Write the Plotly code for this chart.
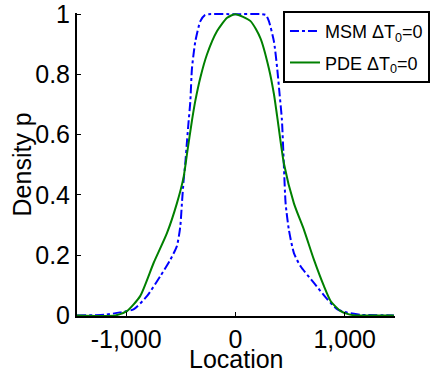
import plotly.graph_objects as go

# MSM curve (blue dash-dot)
msm_x = [-1450, -1200, -1055, -933, -810, -688, -596, -536, -505, -490, -474, -459, -443, -428,
         -413, -398, -367, -321, -280, -245, 0, 245, 280, 306, 352, 382, 405, 425, 443, 459,
         489, 535, 596, 718, 841, 933, 1024, 1150, 1450]
msm_y = [0, 0.002, 0.01, 0.02, 0.064, 0.13, 0.185, 0.23, 0.295, 0.372, 0.45, 0.505, 0.58, 0.647,
         0.71, 0.82, 0.91, 0.977, 0.997, 1, 1, 1, 0.997, 0.977, 0.91, 0.82, 0.73, 0.65, 0.50, 0.372,
         0.284, 0.207, 0.163, 0.108, 0.053, 0.02, 0.009, 0.002, 0]

# PDE curve (green solid)
pde_x = [-1450, -1100, -994, -872, -749, -627, -536, -474, -443, -398, -367, -321, -260, -168,
         -76, 0, 138, 229, 306, 352, 382, 443, 535, 627, 718, 810, 872, 963, 1024, 1100, 1450]
pde_y = [0, 0, 0.014, 0.064, 0.174, 0.273, 0.372, 0.46, 0.537, 0.647, 0.713, 0.79, 0.867, 0.944,
         0.988, 1, 0.977, 0.92, 0.82, 0.735, 0.66, 0.505, 0.372, 0.284, 0.185, 0.097, 0.047, 0.014,
         0.005, 0, 0]

x_ticks = [-1000, 0, 1000]
x_tick_labels = ["-1,000", "0", "1,000"]
y_ticks = [0, 0.2, 0.4, 0.6, 0.8, 1]
y_tick_labels = ["0", "0.2", "0.4", "0.6", "0.8", "1"]

fig = go.Figure()
fig.add_trace(go.Scatter(x=msm_x, y=msm_y, mode="lines", name="MSM \u0394T<sub>0</sub>=0",
                         legendgroup="a",
                         line=dict(color="rgb(0,0,255)", width=2, dash="dashdot", shape="spline", smoothing=0.6)))
fig.add_trace(go.Scatter(x=pde_x, y=pde_y, mode="lines", name="PDE \u0394T<sub>0</sub>=0",
                         legendgroup="b",
                         line=dict(color="rgb(0,128,0)", width=2, shape="spline", smoothing=0.6)))

fig.update_layout(
    width=436, height=373,
    margin=dict(l=77, r=41, t=13, b=57, autoexpand=False),
    paper_bgcolor="white", plot_bgcolor="white",
    font=dict(family="Liberation Sans, Arial, sans-serif", color="black", size=25),
    showlegend=True,
    legend=dict(x=1.11, xanchor="right", y=1.007, yanchor="top",
                bordercolor="black", borderwidth=2, bgcolor="white",
                font=dict(size=18), tracegroupgap=5, itemwidth=30),
    xaxis=dict(range=[-1450, 1460], tickvals=x_ticks, ticktext=x_tick_labels,
               showline=True, linecolor="black", linewidth=2, ticks="inside", ticklen=4,
               tickcolor="black", showgrid=False, zeroline=False, mirror=False, automargin=False,
               ticklabeloverflow="allow"),
    yaxis=dict(range=[-0.002, 1.004], tickvals=y_ticks, ticktext=y_tick_labels,
               showline=True, linecolor="black", linewidth=2, ticks="inside", ticklen=4,
               tickcolor="black", showgrid=False, zeroline=False, mirror=False, automargin=False,
               ticklabeloverflow="allow"),
    annotations=[
        dict(text="Location", xref="paper", yref="paper", x=0.5, y=-0.141, yanchor="middle",
             xanchor="center", showarrow=False, font=dict(size=25)),
        dict(text="Density p", xref="paper", yref="paper", x=-0.173, y=0.5, xanchor="center",
             yanchor="middle", textangle=-90, showarrow=False, font=dict(size=25)),
    ],
)

# the page body has a default 8px margin; drop it so the figure sits at the window corner
fig.write_html("out.html", config={"displayModeBar": False},
               post_script="document.body.style.margin='0';")
